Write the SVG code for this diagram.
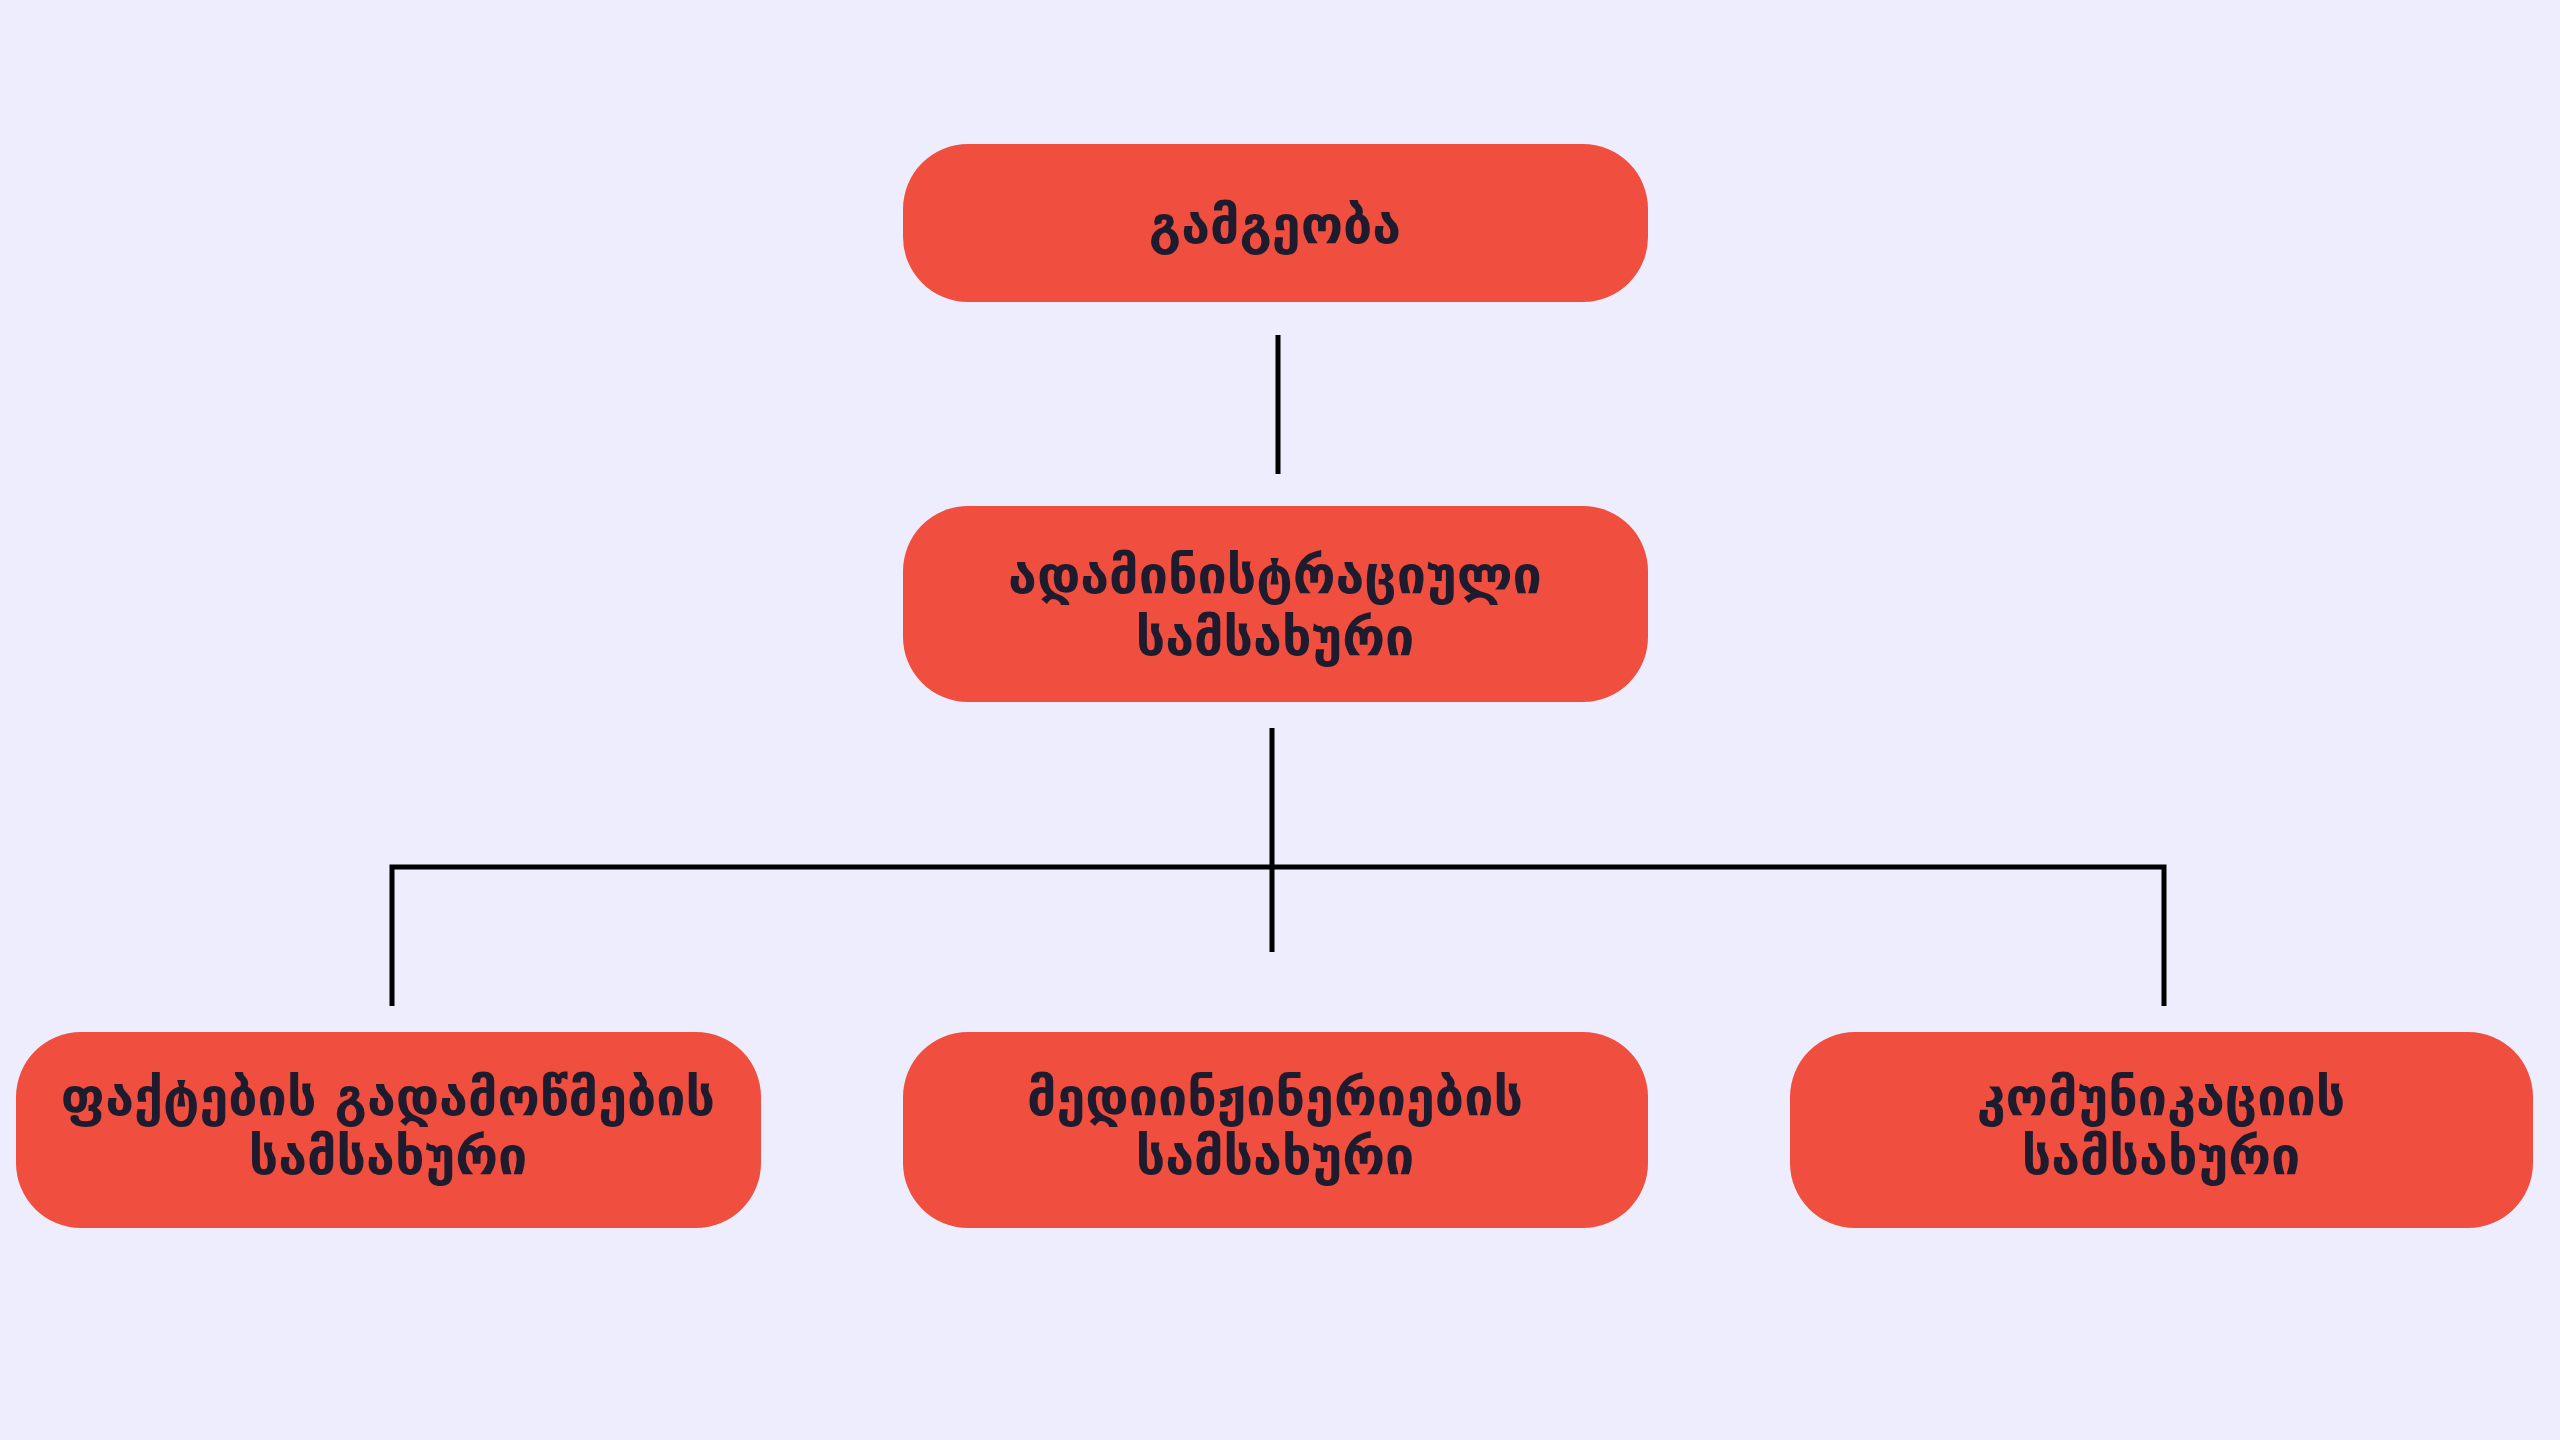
<svg xmlns="http://www.w3.org/2000/svg" width="2560" height="1440" viewBox="0 0 2560 1440">
<style>
.box{fill:#F04E3E}
.t{font-family:"DejaVu Sans",sans-serif;font-weight:bold;font-size:52px;fill:#1E1B2E;text-anchor:middle}
.c{stroke:#000;stroke-width:5;fill:none}
</style>
<rect width="2560" height="1440" fill="#EDEDFD"/>
<g id="connectors">
<line class="c" x1="1278" y1="335" x2="1278" y2="474"/>
<line class="c" x1="1272" y1="728" x2="1272" y2="952"/>
<polyline class="c" points="392,1006 392,867 2164,867 2164,1006"/>
</g>
<g id="n1"><rect class="box" x="903" y="144" width="745" height="158" rx="65"/>
<text class="t" x="1275" y="243">გამგეობა</text></g>
<g id="n2"><rect class="box" x="903" y="506" width="745" height="196" rx="65"/>
<text class="t" x="1275" y="593">ადამინისტრაციული</text>
<text class="t" x="1275" y="655">სამსახური</text></g>
<g id="n3"><rect class="box" x="16" y="1032" width="745" height="196" rx="65"/>
<text class="t" x="388" y="1115">ფაქტების გადამოწმების</text>
<text class="t" x="388" y="1174">სამსახური</text></g>
<g id="n4"><rect class="box" x="903" y="1032" width="745" height="196" rx="65"/>
<text class="t" x="1275" y="1115">მედიინჟინერიების</text>
<text class="t" x="1275" y="1174">სამსახური</text></g>
<g id="n5"><rect class="box" x="1790" y="1032" width="743" height="196" rx="65"/>
<text class="t" x="2161" y="1115">კომუნიკაციის</text>
<text class="t" x="2161" y="1174">სამსახური</text></g>
</svg>
